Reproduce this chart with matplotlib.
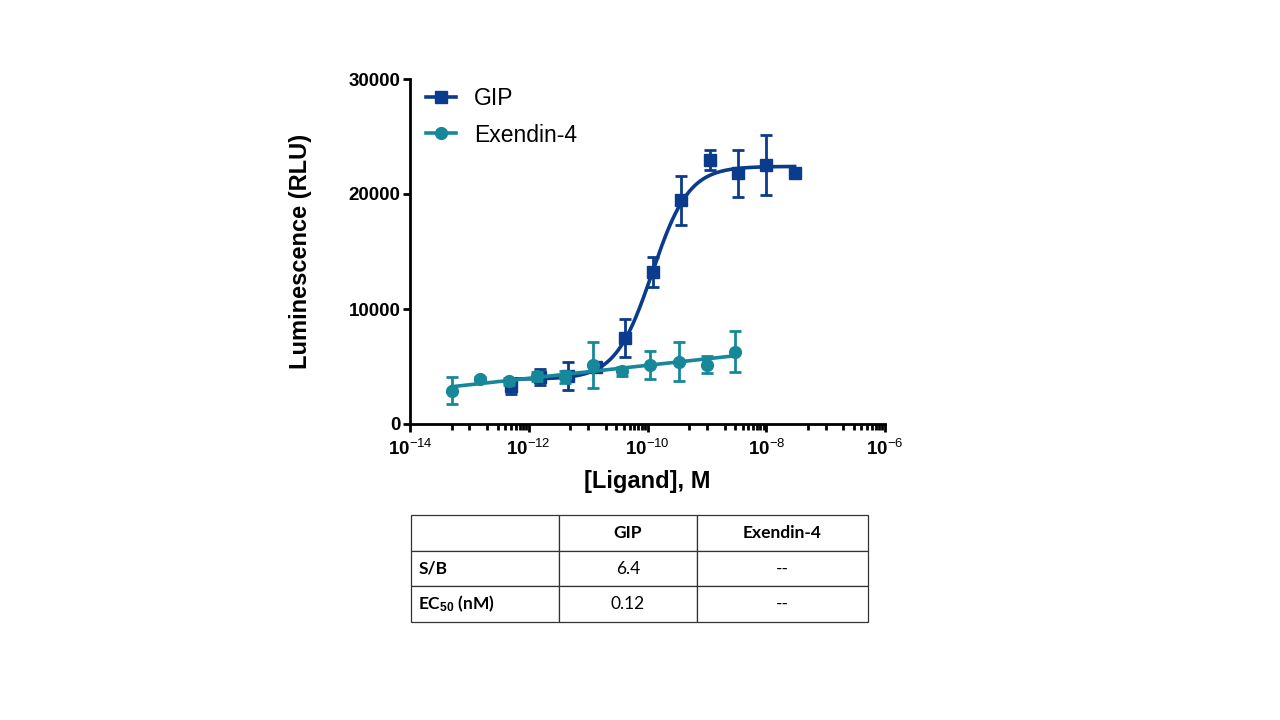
import numpy as np
import matplotlib
matplotlib.use("Agg")
import matplotlib.pyplot as plt
from matplotlib.ticker import FixedLocator, FixedFormatter, NullFormatter
from matplotlib.lines import Line2D

plt.rcParams['font.family'] = ['Liberation Sans', 'DejaVu Sans']
plt.rcParams['mathtext.fontset'] = 'custom'
plt.rcParams['mathtext.rm'] = 'Liberation Sans'
plt.rcParams['mathtext.bf'] = 'Liberation Sans:bold'
plt.rcParams['mathtext.it'] = 'Liberation Sans:italic'

# ---------------- data ----------------
gip_conc = [5.08e-13, 1.52e-12, 4.57e-12, 1.37e-11, 4.12e-11, 1.23e-10,
            3.70e-10, 1.11e-9, 3.33e-9, 1.0e-8, 3.0e-8]
gip_mean = [3300, 4100, 4200, 5000, 7450, 13250, 19450, 22950, 21800, 22500, 21800]
gip_err = [700, 700, 1200, 400, 1650, 1300, 2150, 870, 2050, 2600, 300]

ex4_conc = [5.08e-14, 1.52e-13, 4.57e-13, 1.37e-12, 4.12e-12, 1.23e-11,
            3.70e-11, 1.11e-10, 3.33e-10, 1.0e-9, 3.0e-9]
ex4_mean = [2900, 3900, 3700, 4150, 4100, 5150, 4600, 5150, 5400, 5150, 6300]
ex4_err = [1200, 150, 300, 400, 500, 2000, 400, 1200, 1700, 750, 1800]

# 4PL fit parameters for GIP (EC50 from table: 0.12 nM)
gip_bottom, gip_top, gip_ec50, gip_hill = 3900, 22400, 0.12e-9, 1.4

x_tick_vals = [1e-14, 1e-12, 1e-10, 1e-8, 1e-6]
x_tick_labels = [r"$\mathbf{10}^{-14}$", r"$\mathbf{10}^{-12}$", r"$\mathbf{10}^{-10}$",
                 r"$\mathbf{10}^{-8}$", r"$\mathbf{10}^{-6}$"]
y_tick_vals = [0, 10000, 20000, 30000]

table_cols = ["", "GIP", "Exendin-4"]
table_rows = ["S/B", "EC$_{\\mathbf{50}}$ (nM)"]
table_vals = [["6.4", "--"], ["0.12", "--"]]

gip_color = "#0B3B8C"
ex4_color = "#17879A"

# ---------------- figure ----------------
fig = plt.figure(figsize=(12.8, 7.2), dpi=100)
ax = fig.add_axes([410 / 1280, 1 - 424 / 720, 475 / 1280, 345 / 720])

# GIP fit curve
xf = np.logspace(np.log10(gip_conc[0]), np.log10(gip_conc[-1]), 300)
yf = gip_bottom + (gip_top - gip_bottom) / (1 + (gip_ec50 / xf) ** gip_hill)
ax.plot(xf, yf, color=gip_color, lw=2.6, zorder=2)
ax.errorbar(gip_conc, gip_mean, yerr=gip_err, fmt='s', color=gip_color,
            ms=8.5, elinewidth=2, capsize=4.5, capthick=2, zorder=3)

# Exendin-4 fit line (linear in log concentration)
coef = np.polyfit(np.log10(ex4_conc), ex4_mean, 1)
xe = np.logspace(np.log10(ex4_conc[0]), np.log10(ex4_conc[-1]), 100)
ax.plot(xe, np.polyval(coef, np.log10(xe)), color=ex4_color, lw=2.6, zorder=4)
ax.errorbar(ex4_conc, ex4_mean, yerr=ex4_err, fmt='o', color=ex4_color,
            ms=8.5, elinewidth=2, capsize=4.5, capthick=2, zorder=5)

ax.set_xscale('log')
ax.set_xlim(1e-14, 1e-6)
ax.set_ylim(0, 30000)

ax.xaxis.set_major_locator(FixedLocator(x_tick_vals))
ax.xaxis.set_major_formatter(FixedFormatter(x_tick_labels))
minor = []
for d in [-14, -12, -10, -8]:
    minor.append(5 * 10.0 ** d)
    for k in range(1, 10):
        minor.append(k * 10.0 ** (d + 1))
ax.xaxis.set_minor_locator(FixedLocator(minor))
ax.xaxis.set_minor_formatter(NullFormatter())

ax.set_yticks(y_tick_vals)
ax.set_yticklabels([str(v) for v in y_tick_vals], fontweight='bold')

for s in ['top', 'right']:
    ax.spines[s].set_visible(False)
for s in ['left', 'bottom']:
    ax.spines[s].set_linewidth(2.0)
ax.tick_params(axis='y', which='major', length=5, width=2, labelsize=13.5, pad=2)
ax.tick_params(axis='x', which='major', length=6, width=2, labelsize=13.5, pad=5)
ax.tick_params(axis='x', which='minor', length=4, width=2)

ax.set_xlabel("[Ligand], M", fontsize=17, fontweight='bold', labelpad=8)
ax.set_ylabel("Luminescence (RLU)", fontsize=17, fontweight='bold', labelpad=26)

h1 = Line2D([], [], color=gip_color, lw=2.6, marker='s', ms=8.5)
h2 = Line2D([], [], color=ex4_color, lw=2.6, marker='o', ms=8.5)
ax.legend([h1, h2], ["GIP", "Exendin-4"], loc='upper left', frameon=False,
          fontsize=16.5, handlelength=1.3, handletextpad=0.8, labelspacing=0.6,
          bbox_to_anchor=(0.0, 1.024), borderaxespad=0.3)

# ---------------- table ----------------
tax = fig.add_axes([411 / 1280, 1 - 622 / 720, 457 / 1280, 107 / 720])
tax.axis('off')
cells = [table_cols] + [[table_rows[i]] + table_vals[i] for i in range(len(table_rows))]
tbl = tax.table(cellText=cells, bbox=[0, 0, 1, 1], colWidths=[148, 138, 171],
                cellLoc='center')
tbl.auto_set_font_size(False)
for (r, c), cell in tbl.get_celld().items():
    cell.set_edgecolor('#333333')
    cell.set_linewidth(0.9)
    txt = cell.get_text()
    txt.set_fontsize(12.5)
    txt.set_fontfamily(['Lato', 'DejaVu Sans'])
    if r == 0 or c == 0:
        txt.set_fontweight('bold')
    if c == 0:
        txt.set_horizontalalignment('left')
        cell.PAD = 0.05

fig.savefig("out.png", dpi=100)
